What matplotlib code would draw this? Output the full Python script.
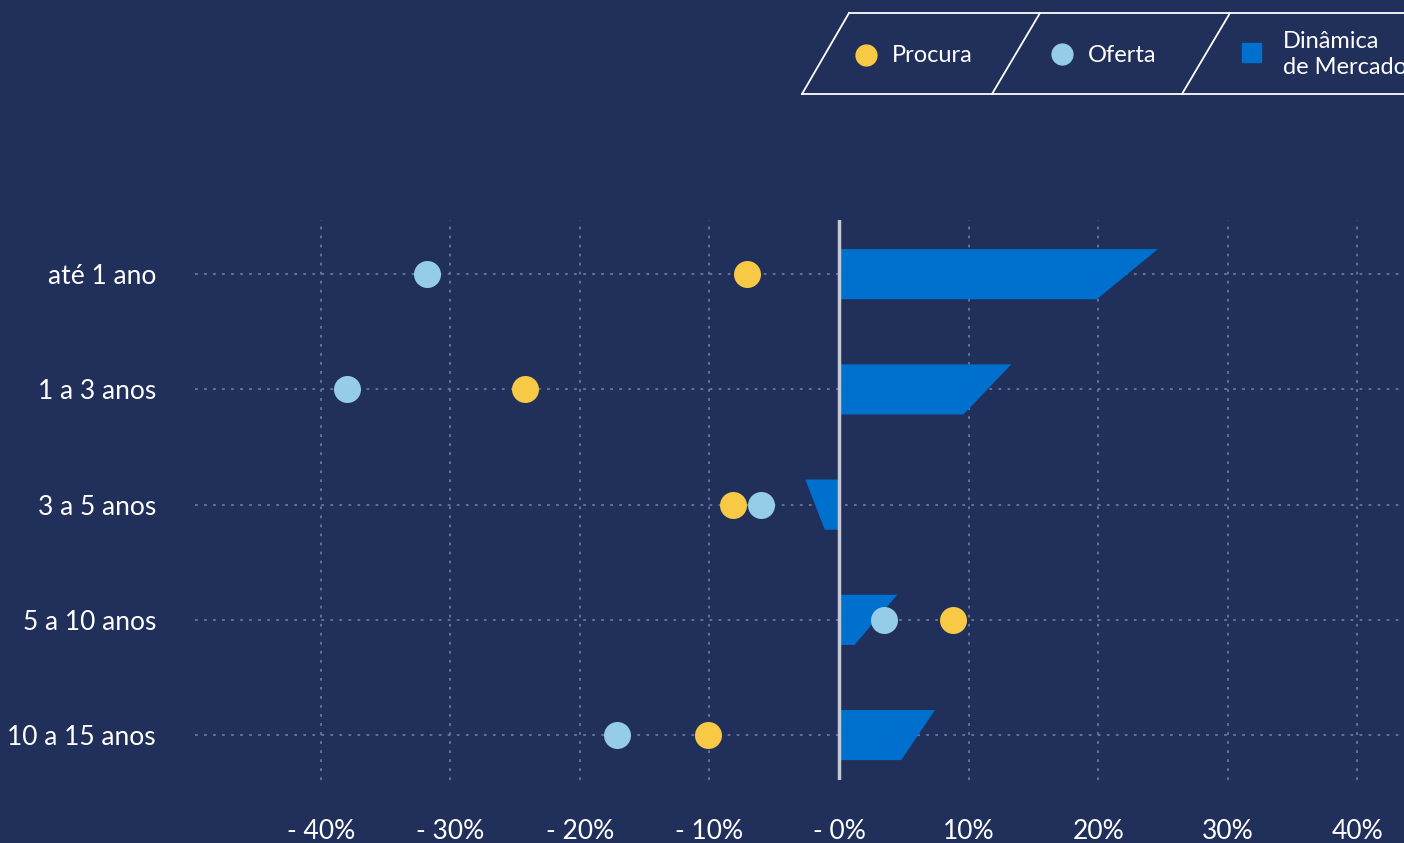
import matplotlib
matplotlib.use("Agg")
import matplotlib.pyplot as plt
from matplotlib.patches import Polygon, Rectangle
from matplotlib.lines import Line2D

# ---- data ----
categorias = ["até 1 ano", "1 a 3 anos", "3 a 5 anos", "5 a 10 anos", "10 a 15 anos"]
procura = [-7.1, -24.2, -8.2, 8.8, -10.1]
oferta = [-31.8, -38.0, -6.0, 3.5, -17.1]
dinamica_topo = [24.6, 13.3, -2.6, 4.5, 7.4]
dinamica_base = [19.9, 9.6, -1.1, 1.2, 4.8]
x_ticks = [-40, -30, -20, -10, 0, 10, 20, 30, 40]
x_labels = ["- 40%", "- 30%", "- 20%", "- 10%", "- 0%", "10%", "20%", "30%", "40%"]

BG = "#21305A"
BAR = "#0070CF"
YEL = "#F8C945"
LBL = "#95CDE8"
GRID = "#6B7897"
FONT = ["Lato", "DejaVu Sans"]
plt.rcParams["font.family"] = FONT

W, H = 1404, 843
fig = plt.figure(figsize=(W / 100, H / 100), dpi=100, facecolor=BG)

def fx(px):
    return px / W

def fy(py):
    return 1 - py / H

ax = fig.add_axes([fx(195), fy(780), fx(1404) - fx(195), fy(220) - fy(780)])
ax.set_facecolor(BG)
for s in ax.spines.values():
    s.set_visible(False)

ax.set_xlim(-49.7, 43.6)
ax.set_ylim(4.39, -0.47)

# grid
for t in x_ticks:
    if t != 0:
        ax.axvline(t, color=GRID, lw=1.3, ls=(0, (1.5, 3.5)), zorder=1)
for i in range(len(categorias)):
    ax.axhline(i, color=GRID, lw=1.3, ls=(0, (1.5, 3.5)), zorder=1)

# bars (trapezoids)
h = 0.435
for i, (vt, vb) in enumerate(zip(dinamica_topo, dinamica_base)):
    poly = Polygon([(0, i - h / 2), (vt, i - h / 2), (vb, i + h / 2), (0, i + h / 2)],
                   closed=True, facecolor=BAR, edgecolor="none", zorder=2)
    ax.add_patch(poly)

ax.axvline(0, color="#C5C9D3", lw=2.5, zorder=3)

ys = list(range(len(categorias)))
ax.scatter(procura, ys, s=27**2 * 0.5184, color=YEL, zorder=4, linewidths=0)
ax.scatter(oferta, ys, s=27**2 * 0.5184, color=LBL, zorder=4, linewidths=0)

ax.set_xticks(x_ticks)
ax.set_xticklabels(x_labels)
ax.set_yticks(ys)
ax.set_yticklabels(categorias)
ax.tick_params(axis="both", length=0, colors="white", labelsize=19)
ax.tick_params(axis="x", pad=28)
ax.tick_params(axis="y", pad=28)

# legend frame (parallelograms)
lw = 1.3
lines = [
    ((849, 13), (1404, 13)),
    ((802, 94), (1404, 94)),
    ((849, 13), (802, 94)),
    ((1040, 13), (992, 94)),
    ((1230, 13), (1182, 94)),
]
for (x0, y0), (x1, y1) in lines:
    fig.add_artist(Line2D([fx(x0), fx(x1)], [fy(y0), fy(y1)], color="white", lw=lw,
                          transform=fig.transFigure))

fig.add_artist(Line2D([fx(866)], [fy(55)], marker="o", ms=16, color=YEL, mec="none",
                      transform=fig.transFigure))
fig.text(fx(892), fy(55), "Procura", color="white", fontsize=17, va="center", ha="left")
fig.add_artist(Line2D([fx(1062)], [fy(54)], marker="o", ms=16, color=LBL, mec="none",
                      transform=fig.transFigure))
fig.text(fx(1088), fy(55), "Oferta", color="white", fontsize=17, va="center", ha="left")
fig.add_artist(Rectangle((fx(1242), fy(62)), fx(19), fy(0) - fy(19), color=BAR,
                         transform=fig.transFigure))
fig.text(fx(1283), fy(42), "Dinâmica", color="white", fontsize=17, va="center", ha="left")
fig.text(fx(1283), fy(68), "de Mercado", color="white", fontsize=17, va="center", ha="left")

fig.savefig("out.png", dpi=100, facecolor=BG)
